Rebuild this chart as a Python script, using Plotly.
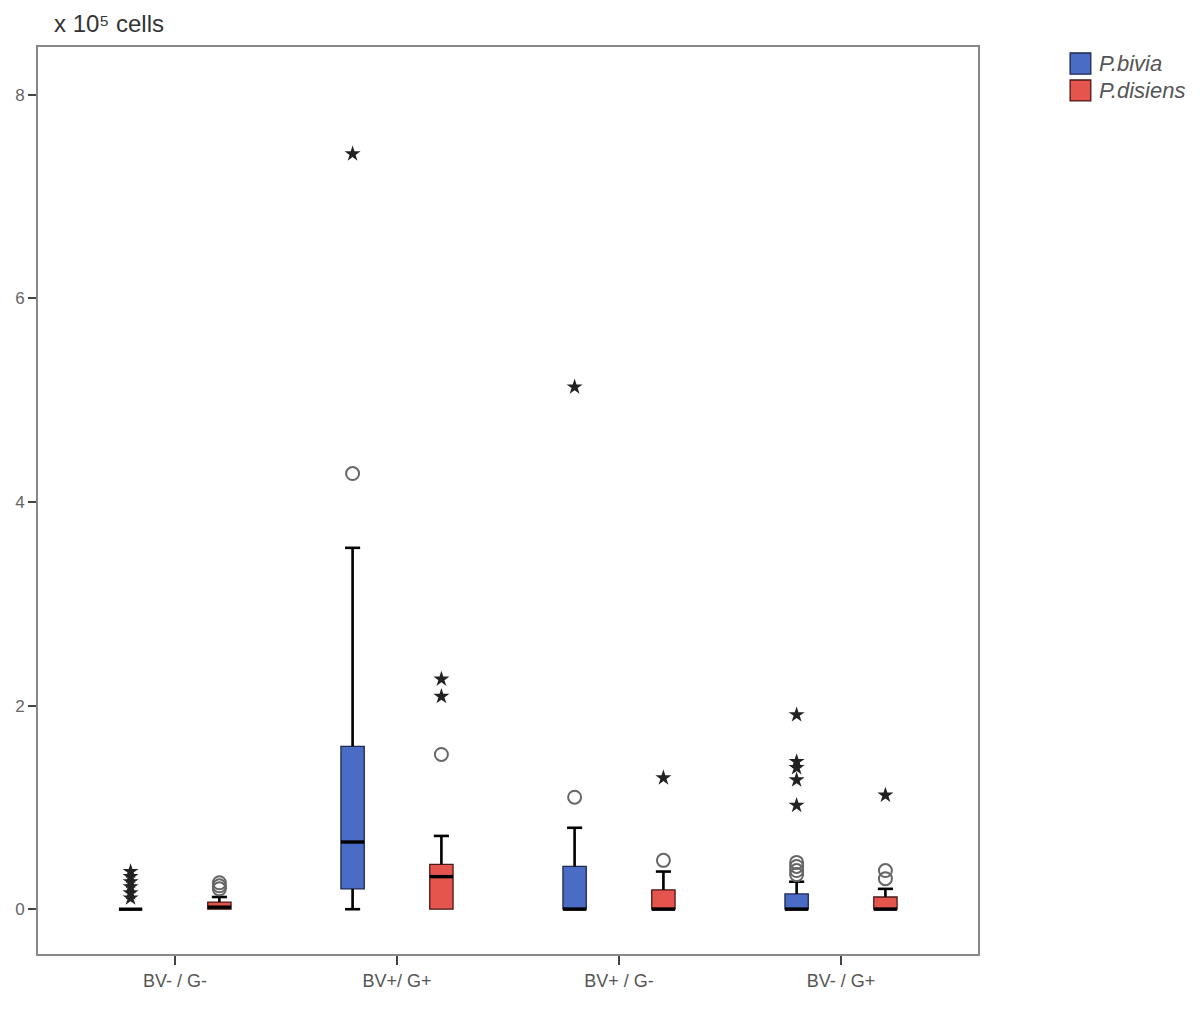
import plotly.graph_objects as go

# ---------------- data (values in units of 10^5 cells) ----------------
categories = ["BV- / G-", "BV+/ G+", "BV+ / G-", "BV- / G+"]

bivia_q1 = [0, 0.20, 0, 0]
bivia_median = [0, 0.66, 0, 0]
bivia_q3 = [0, 1.60, 0.42, 0.15]
bivia_lower = [0, 0, 0, 0]
bivia_upper = [0, 3.55, 0.80, 0.27]
bivia_circles = [[], [4.28], [1.10], [0.46, 0.42, 0.38, 0.34]]
bivia_stars = [[0.37, 0.32, 0.27, 0.22, 0.16, 0.11], [7.42], [5.13], [1.91, 1.45, 1.39, 1.27, 1.02]]

disiens_q1 = [0, 0, 0, 0]
disiens_median = [0.02, 0.32, 0, 0]
disiens_q3 = [0.07, 0.44, 0.19, 0.12]
disiens_lower = [0, 0, 0, 0]
disiens_upper = [0.12, 0.72, 0.37, 0.20]
disiens_circles = [[0.26, 0.23, 0.20], [1.52], [0.48], [0.38, 0.30]]
disiens_stars = [[], [2.26, 2.09], [1.29], [1.12]]

series_names = ["P.bivia", "P.disiens"]
y_ticks = [0, 2, 4, 6, 8]
unit_label = "x 10\u2075 cells"

# ---------------- styling ----------------
BLUE = "#4a6cc4"
RED = "#e6544e"
OFFSET = 0.2
BOX_W = 0.105
CAP_HALF = 0.034
FONT = "Liberation Sans Narrow, Liberation Sans, Arial"

fig = go.Figure()

series = [
    (series_names[0], -OFFSET, BLUE, "#1c2850", bivia_q1, bivia_median, bivia_q3, bivia_lower, bivia_upper,
     bivia_circles, bivia_stars),
    (series_names[1], OFFSET, RED, "#4a1a18", disiens_q1, disiens_median, disiens_q3, disiens_lower, disiens_upper,
     disiens_circles, disiens_stars),
]

for name, off, fill, edge, q1, med, q3, lo, up, circ, stars in series:
    xs = [i + off for i in range(len(categories))]
    fig.add_trace(go.Box(
        x=xs, q1=q1, median=med, q3=q3, lowerfence=lo, upperfence=up, name=name,
        width=BOX_W, fillcolor=fill, line=dict(color=edge, width=1.3),
        boxpoints=False, showlegend=False, hoverinfo="skip", whiskerwidth=0,
    ))
    # whiskers + caps
    wx, wy = [], []
    for x, a, b, c, d in zip(xs, lo, q1, q3, up):
        if d > c:
            wx += [x, x, None, x - CAP_HALF, x + CAP_HALF, None]
            wy += [c, d, None, d, d, None]
        if b > a:
            wx += [x, x, None, x - CAP_HALF, x + CAP_HALF, None]
            wy += [b, a, None, a, a, None]
    fig.add_trace(go.Scatter(x=wx, y=wy, mode="lines", line=dict(color="#000", width=2.6),
                             showlegend=False, hoverinfo="skip"))
    # medians
    mx, my = [], []
    for x, m in zip(xs, med):
        mx += [x - BOX_W / 2, x + BOX_W / 2, None]
        my += [m, m, None]
    fig.add_trace(go.Scatter(x=mx, y=my, mode="lines", line=dict(color="#000", width=3.4),
                             showlegend=False, hoverinfo="skip"))
    # outliers
    cx, cy, sx, sy = [], [], [], []
    for x, cl, sl in zip(xs, circ, stars):
        cx += [x] * len(cl)
        cy += cl
        sx += [x] * len(sl)
        sy += sl
    fig.add_trace(go.Scatter(x=cx, y=cy, mode="markers",
                             marker=dict(symbol="circle-open", size=13, color="#666",
                                         line=dict(width=2, color="#666")),
                             showlegend=False, hoverinfo="skip"))
    fig.add_trace(go.Scatter(x=sx, y=sy, mode="markers",
                             marker=dict(symbol="star", size=12, color="#222",
                                         line=dict(width=0)),
                             showlegend=False, hoverinfo="skip"))

# legend drawn as swatches + labels (top right, outside plot area)
shapes = []
annotations = [dict(text=unit_label, xref="paper", yref="paper",
                    x=0.0149, y=1.026, xanchor="left", yanchor="middle",
                    showarrow=False, font=dict(size=24, color="#333", family="Liberation Sans, Arial"))]
legend_rows = [(0.9934, 0.970), (0.9636, 0.9405)]
for (nm, fill, edge), (ytop, ybot) in zip([(series_names[0], BLUE, "#1c2850"), (series_names[1], RED, "#4a1a18")],
                                          legend_rows):
    shapes.append(dict(type="rect", xref="paper", yref="paper", x0=1.098, x1=1.120, y0=ybot, y1=ytop,
                       fillcolor=fill, line=dict(color=edge, width=1.3)))
    annotations.append(dict(text=nm, xref="paper", yref="paper", x=1.1265, y=(ytop + ybot) / 2,
                            xanchor="left", yanchor="middle", showarrow=False,
                            font=dict(size=22, color="#555", style="italic", family="Liberation Sans, Arial")))

fig.update_layout(
    width=1200, height=1009,
    margin=dict(l=30, r=230, t=39, b=63, autoexpand=False),
    paper_bgcolor="white", plot_bgcolor="white",
    font=dict(family=FONT, color="#555"),
    showlegend=False,
    shapes=shapes,
    annotations=annotations,
)

fig.update_xaxes(
    range=[-0.617, 3.617], tickmode="array", tickvals=list(range(len(categories))),
    ticktext=categories, ticks="outside", ticklen=9, tickwidth=1.5, tickcolor="#444",
    showline=True, linecolor="#888", linewidth=2, mirror=True, showgrid=False, zeroline=False,
    tickfont=dict(size=18, color="#555"),
)
fig.update_yaxes(
    range=[-0.44, 8.47], tickmode="array", tickvals=y_ticks, ticks="outside", ticklen=8,
    tickwidth=1.5, tickcolor="#444", showline=True, linecolor="#888", linewidth=2, mirror=True,
    showgrid=False, zeroline=False, tickfont=dict(size=17, color="#666"),
)

fig.write_html("out.html")
